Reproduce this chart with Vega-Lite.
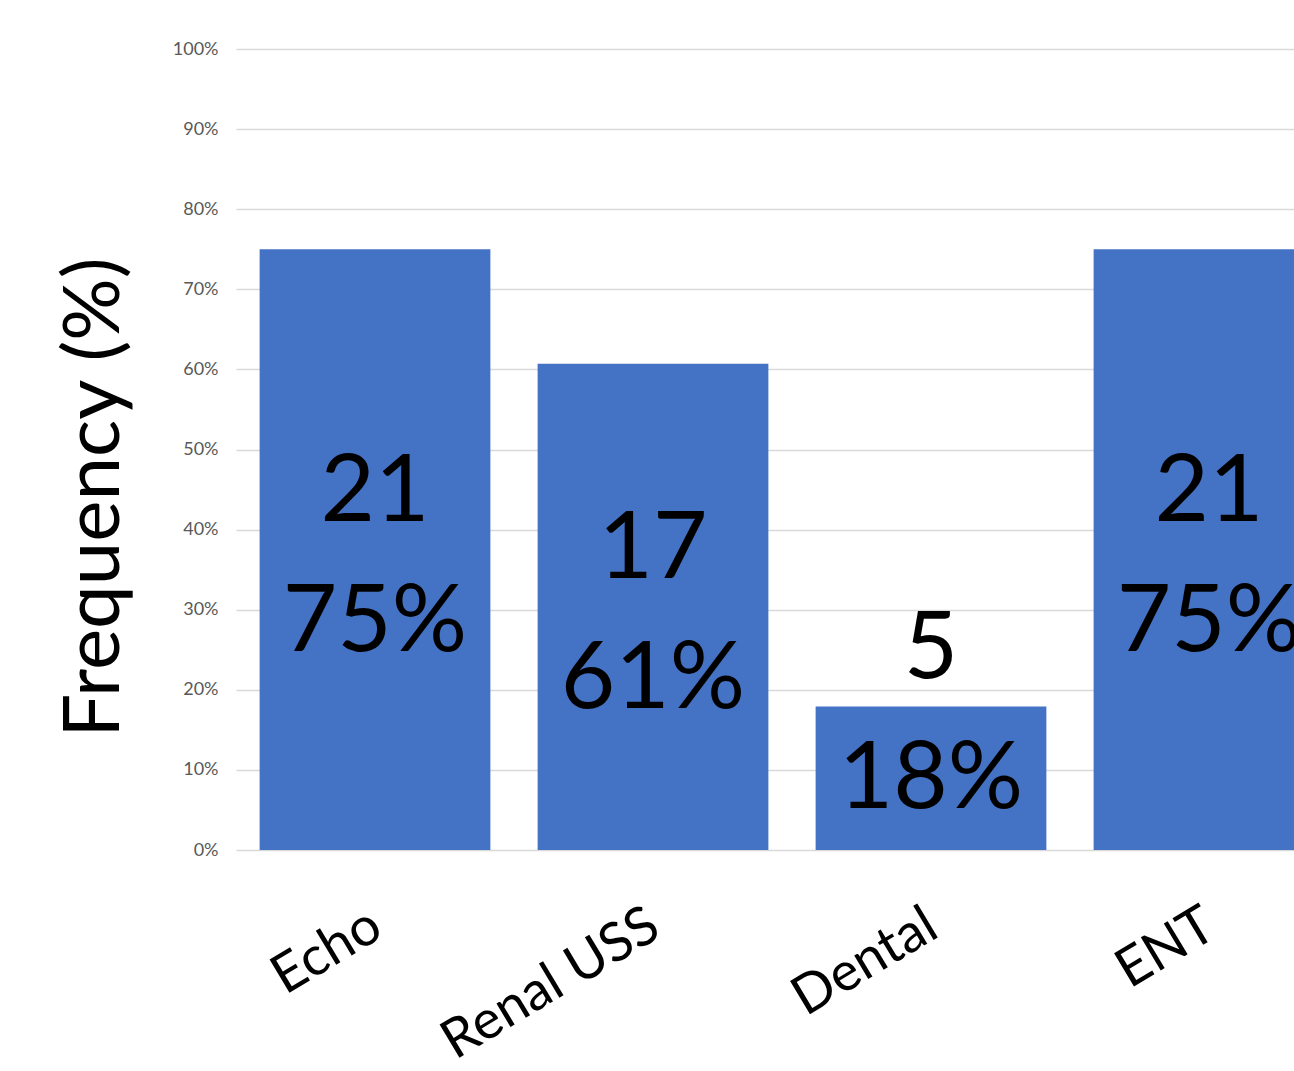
{
  "$schema": "https://vega.github.io/schema/vega-lite/v6.json",
  "autosize": {"type": "none"},
  "padding": {"left": 236, "top": 49, "right": 0, "bottom": 221},
  "width": 1112,
  "height": 801,
  "background": "white",
  "config": {
    "font": "Lato",
    "view": {"stroke": null}
  },
  "data": {
    "values": [
      {"test": "Echo", "count": 21, "pct": 0.75, "pctLabel": "75%"},
      {"test": "Renal USS", "count": 17, "pct": 0.607, "pctLabel": "61%"},
      {"test": "Dental", "count": 5, "pct": 0.179, "pctLabel": "18%"},
      {"test": "ENT", "count": 21, "pct": 0.75, "pctLabel": "75%"}
    ]
  },
  "transform": [
    {"calculate": "datum.pct < 0.3 ? datum.pct : datum.pct / 2", "as": "labelY"}
  ],
  "encoding": {
    "x": {
      "field": "test",
      "type": "nominal",
      "sort": null,
      "scale": {"paddingInner": 0.17, "paddingOuter": 0.085},
      "axis": {
        "title": null,
        "domain": false,
        "ticks": false,
        "labelAngle": -31,
        "labelAlign": "right",
        "labelBaseline": "top",
        "labelFontSize": 54,
        "labelColor": "#000000",
        "labelPadding": 48,
        "labelOffset": -12,
        "labelLimit": 0,
        "labelOverlap": false,
        "labelFont": "Lato"
      }
    }
  },
  "layer": [
    {
      "mark": {"type": "bar", "color": "#4472C4"},
      "encoding": {
        "y": {
          "field": "pct",
          "type": "quantitative",
          "scale": {"domain": [0, 1], "nice": false},
          "axis": {
            "format": ".0%",
            "values": [0, 0.1, 0.2, 0.3, 0.4, 0.5, 0.6, 0.7, 0.8, 0.9, 1.0],
            "labelOverlap": false,
            "domain": false,
            "ticks": false,
            "grid": true,
            "gridColor": "#d9d9d9",
            "gridWidth": 1.5,
            "labelFontSize": 18,
            "labelColor": "#595959",
            "labelPadding": 18,
            "title": "Frequency (%)",
            "titleFontSize": 78,
            "titleFontWeight": "normal",
            "titleColor": "#000000",
            "titleAngle": -90,
            "titleAlign": "center",
            "titleBaseline": "middle",
            "titleX": -141,
            "titleY": 448
          }
        }
      }
    },
    {
      "mark": {"type": "text", "fontSize": 94, "color": "#000000", "baseline": "middle", "dy": -57},
      "encoding": {
        "y": {"field": "labelY", "type": "quantitative"},
        "text": {"field": "count", "type": "nominal"}
      }
    },
    {
      "mark": {"type": "text", "fontSize": 94, "color": "#000000", "baseline": "middle", "dy": 73},
      "encoding": {
        "y": {"field": "labelY", "type": "quantitative"},
        "text": {"field": "pctLabel", "type": "nominal"}
      }
    }
  ]
}
